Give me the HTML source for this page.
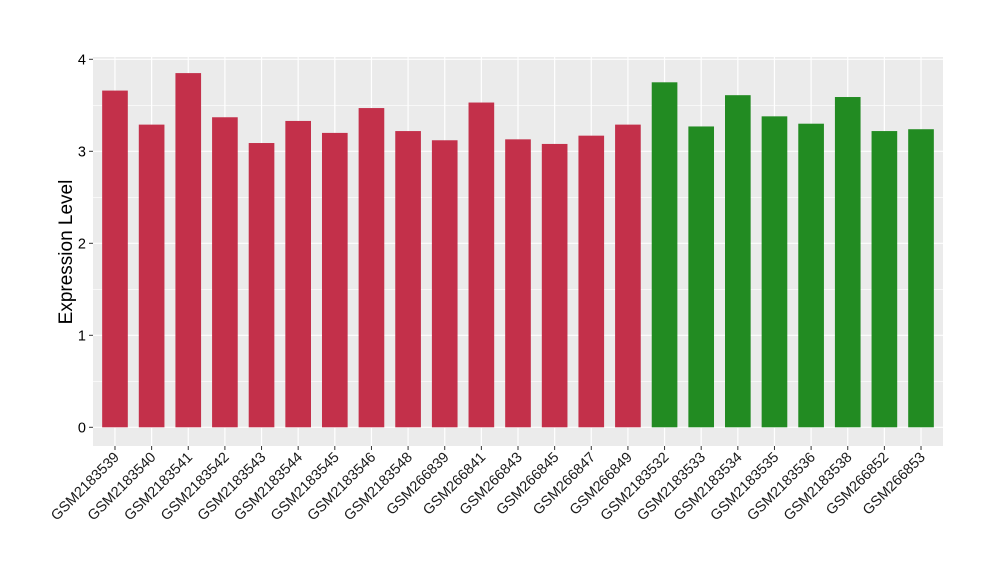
<!DOCTYPE html>
<html><head><meta charset="utf-8"><style>
body{margin:0;background:#fff;font-family:"Liberation Sans",sans-serif}
</style></head><body>
<svg id="chart" width="1000" height="580" xmlns="http://www.w3.org/2000/svg"></svg>
<script>
const categories=["GSM2183539","GSM2183540","GSM2183541","GSM2183542","GSM2183543","GSM2183544","GSM2183545","GSM2183546","GSM2183548","GSM266839","GSM266841","GSM266843","GSM266845","GSM266847","GSM266849","GSM2183532","GSM2183533","GSM2183534","GSM2183535","GSM2183536","GSM2183538","GSM266852","GSM266853"];
const values=[3.66,3.29,3.85,3.37,3.09,3.33,3.20,3.47,3.22,3.12,3.53,3.13,3.08,3.17,3.29,3.75,3.27,3.61,3.38,3.30,3.59,3.22,3.24];
const groups=["a","a","a","a","a","a","a","a","a","a","a","a","a","a","a","b","b","b","b","b","b","b","b"];
const yTicks=[0,1,2,3,4];
const NS="http://www.w3.org/2000/svg";
const svg=document.getElementById('chart');
const L=93,R=943,T=57,B=446;
const y0=427.3,pu=92;
const yS=v=>y0-v*pu;
const step=(R-L)/(categories.length-1+1.2);
const xS=i=>L+(i+0.6)*step;
function mk(t,a,p){const e=document.createElementNS(NS,t);for(const k in a)e.setAttribute(k,a[k]);(p||svg).appendChild(e);return e;}
const panel=mk('rect',{x:L,y:T,width:R-L,height:B-T,fill:'#ebebeb'});


yTicks.forEach((t,k)=>{
  if(k<yTicks.length-1){const m=mk('line',{x1:L,x2:R,y1:yS(t+0.5),y2:yS(t+0.5),stroke:'#fff','stroke-width':0.6});
  }
  const g=mk('line',{x1:L,x2:R,y1:yS(t),y2:yS(t),stroke:'#fff','stroke-width':1.2});
  
  const tk=mk('line',{x1:L-4,x2:L,y1:yS(t),y2:yS(t),stroke:'#333'});
  
  const tx=mk('text',{x:L-7,y:yS(t)+5,'text-anchor':'end','font-size':14.5,fill:'#000'});
  tx.textContent=t;
  
});
categories.forEach((c,i)=>{
  const g=mk('line',{x1:xS(i),x2:xS(i),y1:T,y2:B,stroke:'#fff','stroke-width':1.2});
  
});
const bw=step*0.7;
categories.forEach((c,i)=>{
  const b=mk('rect',{x:xS(i)-bw/2,y:yS(values[i]),width:bw,height:yS(0)-yS(values[i]),fill:groups[i]==='a'?'#c3304a':'#228b22'});
  
  const tk=mk('line',{x1:xS(i),x2:xS(i),y1:B,y2:B+4,stroke:'#333'});
  
  const tx=mk('text',{x:xS(i)+5,y:B+12,'text-anchor':'end','font-size':14.5,fill:'#1a1a1a',transform:`rotate(-45 ${xS(i)+5} ${B+12})`});
  tx.textContent=c;
  
});
const yt=mk('text',{x:72,y:252,'text-anchor':'middle','font-size':19,fill:'#000',transform:'rotate(-90 72 252)'});
yt.textContent='Expression Level';

</script>
</body></html>
